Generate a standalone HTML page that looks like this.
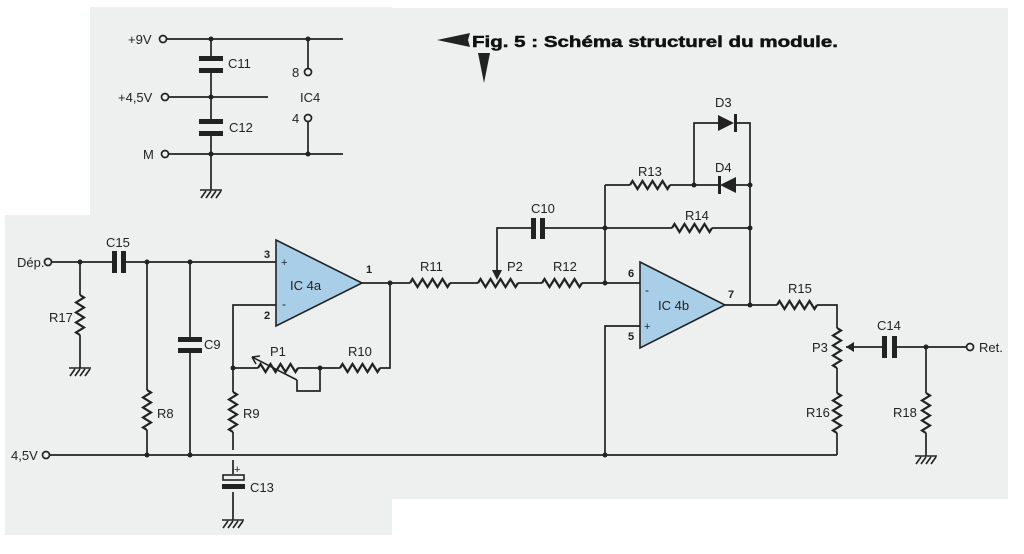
<!DOCTYPE html>
<html><head><meta charset="utf-8"><style>
html,body{margin:0;padding:0;background:#fff}
svg{display:block}
text{font-family:"Liberation Sans",sans-serif;font-size:13px;fill:#222}
</style></head><body>
<svg width="1024" height="554" viewBox="0 0 1024 554" xmlns="http://www.w3.org/2000/svg">
<defs>
<symbol id="rz" overflow="visible"><path d="M0 0 l2.5 -4 l5 8 l5 -8 l5 8 l5 -8 l5 8 l5 -8 l5 8 l2.5 -4" fill="none" stroke="#222" stroke-width="2.2"/></symbol>
<symbol id="gnd" overflow="visible"><path d="M-11 0 h22 M-10 8 l5 -7 M-5 8 l5 -7 M0 8 l5 -7 M5 8 l5 -7" stroke="#222" stroke-width="1.6" fill="none"/></symbol>
</defs>
<rect x="0" y="0" width="1024" height="554" fill="#fff"/>
<rect x="90" y="7" width="302" height="208" fill="#eef0f0"/>
<rect x="390" y="8" width="618" height="491" fill="#eef0f0"/>
<rect x="5" y="215" width="387" height="320" fill="#eef0f0"/>

<g stroke="#222" stroke-width="1.7" fill="none">
<path d="M167 39 H343 M211 39 V58 M211 72 V121 M211 135 V190 M169 97 H268 M169 154 H343 M308 39 V68 M308 122 V154"/>
<circle cx="163" cy="39" r="3.5"/><circle cx="165" cy="97" r="3.5"/><circle cx="165" cy="154" r="3.5"/>
<circle cx="308" cy="72" r="3.5"/><circle cx="308" cy="118" r="3.5"/>
<circle cx="48" cy="262" r="3.5"/>
<path d="M52 262 H112 M124 262 H276 M80 262 V295 M80 335 V368 M147 262 V390 M147 430 V455 M190 262 V339 M190 351 V455"/>
<path d="M276 305 H233 V392 M233 432 V450 M233 368 H258 M298 368 H340 M380 368 H390 V283 M362 283 H410 M450 283 H478 M518 283 H542 M582 283 H640"/>
<path d="M297 380 V391 H320 V368"/>
<path d="M50 455 H837 M233 460 V474 M233 492 V520"/>
<circle cx="46" cy="455" r="3.5"/>
<path d="M497 270 V228 H532 M544 228 H672 M712 228 H750 M605 185 V283 M605 185 H630 M670 185 H720 M694 185 V123 H718 M736 123 H750 V305 M736 185 H750"/>
<path d="M640 326 H605 V455"/>
<path d="M725 305 H777 M817 305 H837 V328 M837 368 V393 M837 433 V455"/>
<path d="M846 347 H883 M895 347 H966 M926 347 V393 M926 433 V456"/>
<circle cx="970" cy="347" r="3.5"/>
</g>
<g fill="#222">
<rect x="199" y="56" width="24" height="5"/><rect x="199" y="68" width="24" height="5"/>
<rect x="199" y="119" width="24" height="5"/><rect x="199" y="131" width="24" height="5"/>
<rect x="112" y="251" width="5" height="22"/><rect x="121" y="251" width="5" height="22"/>
<rect x="178" y="337" width="24" height="5"/><rect x="178" y="348" width="24" height="5"/>
<rect x="531" y="218" width="5" height="21"/><rect x="540" y="218" width="5" height="21"/>
<rect x="882" y="336" width="5" height="22"/><rect x="892" y="336" width="5" height="22"/>
<rect x="222" y="484" width="23" height="5"/>
</g>
<rect x="223" y="475" width="21" height="5" fill="none" stroke="#222" stroke-width="1.6"/>
<use href="#rz" x="410" y="283"/><use href="#rz" x="478" y="283"/><use href="#rz" x="542" y="283"/>
<use href="#rz" x="630" y="185"/><use href="#rz" x="672" y="228"/><use href="#rz" x="340" y="368"/>
<use href="#rz" x="258" y="368"/><use href="#rz" x="777" y="305"/>
<use href="#rz" transform="translate(80,295) rotate(90)"/>
<use href="#rz" transform="translate(147,390) rotate(90)"/>
<use href="#rz" transform="translate(233,392) rotate(90)"/>
<use href="#rz" transform="translate(837,328) rotate(90)"/>
<use href="#rz" transform="translate(837,393) rotate(90)"/>
<use href="#rz" transform="translate(926,393) rotate(90)"/>
<path d="M252 357 L297 380" stroke="#222" stroke-width="1.6"/>
<path d="M252 357 L260 356 M252 357 L256 364" stroke="#222" stroke-width="1.6"/>
<path d="M492 270 L502 270 L497 280 Z" fill="#222"/>
<path d="M846 347 L854 342 L854 352 Z" fill="#222"/>
<path d="M718 115 L734 123 L718 131 Z" fill="#222"/><rect x="734" y="114" width="3" height="18" fill="#222"/>
<path d="M736 177 L720 185 L736 193 Z" fill="#222"/><rect x="718" y="176" width="3" height="18" fill="#222"/>
<use href="#gnd" x="211" y="190"/><use href="#gnd" x="80" y="368"/><use href="#gnd" x="233" y="520"/><use href="#gnd" x="926" y="456"/>
<g fill="#222">
<circle cx="211" cy="39" r="2.5"/><circle cx="308" cy="39" r="2.5"/><circle cx="211" cy="97" r="2.5"/><circle cx="211" cy="154" r="2.5"/><circle cx="308" cy="154" r="2.5"/>
<circle cx="80" cy="262" r="2.5"/><circle cx="147" cy="262" r="2.5"/><circle cx="190" cy="262" r="2.5"/><circle cx="390" cy="283" r="2.5"/>
<circle cx="233" cy="368" r="2.5"/><circle cx="320" cy="368" r="2.5"/><circle cx="147" cy="455" r="2.5"/><circle cx="190" cy="455" r="2.5"/>
<circle cx="605" cy="228" r="2.5"/><circle cx="605" cy="283" r="2.5"/><circle cx="694" cy="185" r="2.5"/><circle cx="750" cy="185" r="2.5"/><circle cx="750" cy="228" r="2.5"/><circle cx="750" cy="305" r="2.5"/>
<circle cx="605" cy="455" r="2.5"/><circle cx="926" cy="347" r="2.5"/>
</g>
<path d="M276 240 L362 283 L276 326 Z" fill="#a9cfe8" stroke="#222" stroke-width="1.6"/>
<path d="M640 262 L725 305 L640 348 Z" fill="#a9cfe8" stroke="#222" stroke-width="1.6"/>
<text x="281" y="266" style="font-size:11px">+</text><text x="282" y="308" style="font-size:12px">-</text>
<text x="645" y="294" style="font-size:12px">-</text><text x="644" y="330" style="font-size:11px">+</text>
<text x="290" y="290">IC 4a</text><text x="658" y="310">IC 4b</text>
<text x="128" y="44">+9V</text><text x="118" y="102">+4,5V</text><text x="143" y="159">M</text>
<text x="228" y="68">C11</text><text x="229" y="132">C12</text>
<text x="292" y="77">8</text><text x="300" y="102">IC4</text><text x="292" y="123">4</text>
<text x="17" y="267">Dép.</text><text x="106" y="247">C15</text>
<text x="264" y="258" style="font-weight:bold;font-size:11px">3</text><text x="264" y="319" style="font-weight:bold;font-size:11px">2</text>
<text x="366" y="273" style="font-weight:bold;font-size:11px">1</text>
<text x="49" y="322">R17</text><text x="157" y="418">R8</text><text x="204" y="349">C9</text>
<text x="243" y="418">R9</text><text x="250" y="492">C13</text><text x="234" y="473" style="font-size:11px">+</text>
<text x="270" y="356">P1</text><text x="348" y="356">R10</text>
<text x="11" y="460">4,5V</text>
<text x="420" y="271">R11</text><text x="507" y="271">P2</text><text x="553" y="271">R12</text>
<text x="531" y="213">C10</text><text x="638" y="176">R13</text><text x="685" y="220">R14</text>
<text x="715" y="107">D3</text><text x="715" y="172">D4</text>
<text x="628" y="277" style="font-weight:bold;font-size:11px">6</text><text x="628" y="340" style="font-weight:bold;font-size:11px">5</text>
<text x="728" y="298" style="font-weight:bold;font-size:11px">7</text>
<text x="788" y="293">R15</text><text x="812" y="352">P3</text><text x="877" y="330">C14</text>
<text x="806" y="417">R16</text><text x="893" y="417">R18</text><text x="979" y="352">Ret.</text>
<path d="M437 40 L470 33 L468 40 L470 47 Z" fill="#222"/>
<path d="M478 53 L490 53 L484 83 Z" fill="#222"/>
<text x="472" y="47" textLength="366" lengthAdjust="spacingAndGlyphs" style="font-weight:bold;font-size:16px;fill:#111;stroke:#111;stroke-width:0.5">Fig. 5 : Schéma structurel du module.</text>
</svg>
</body></html>
